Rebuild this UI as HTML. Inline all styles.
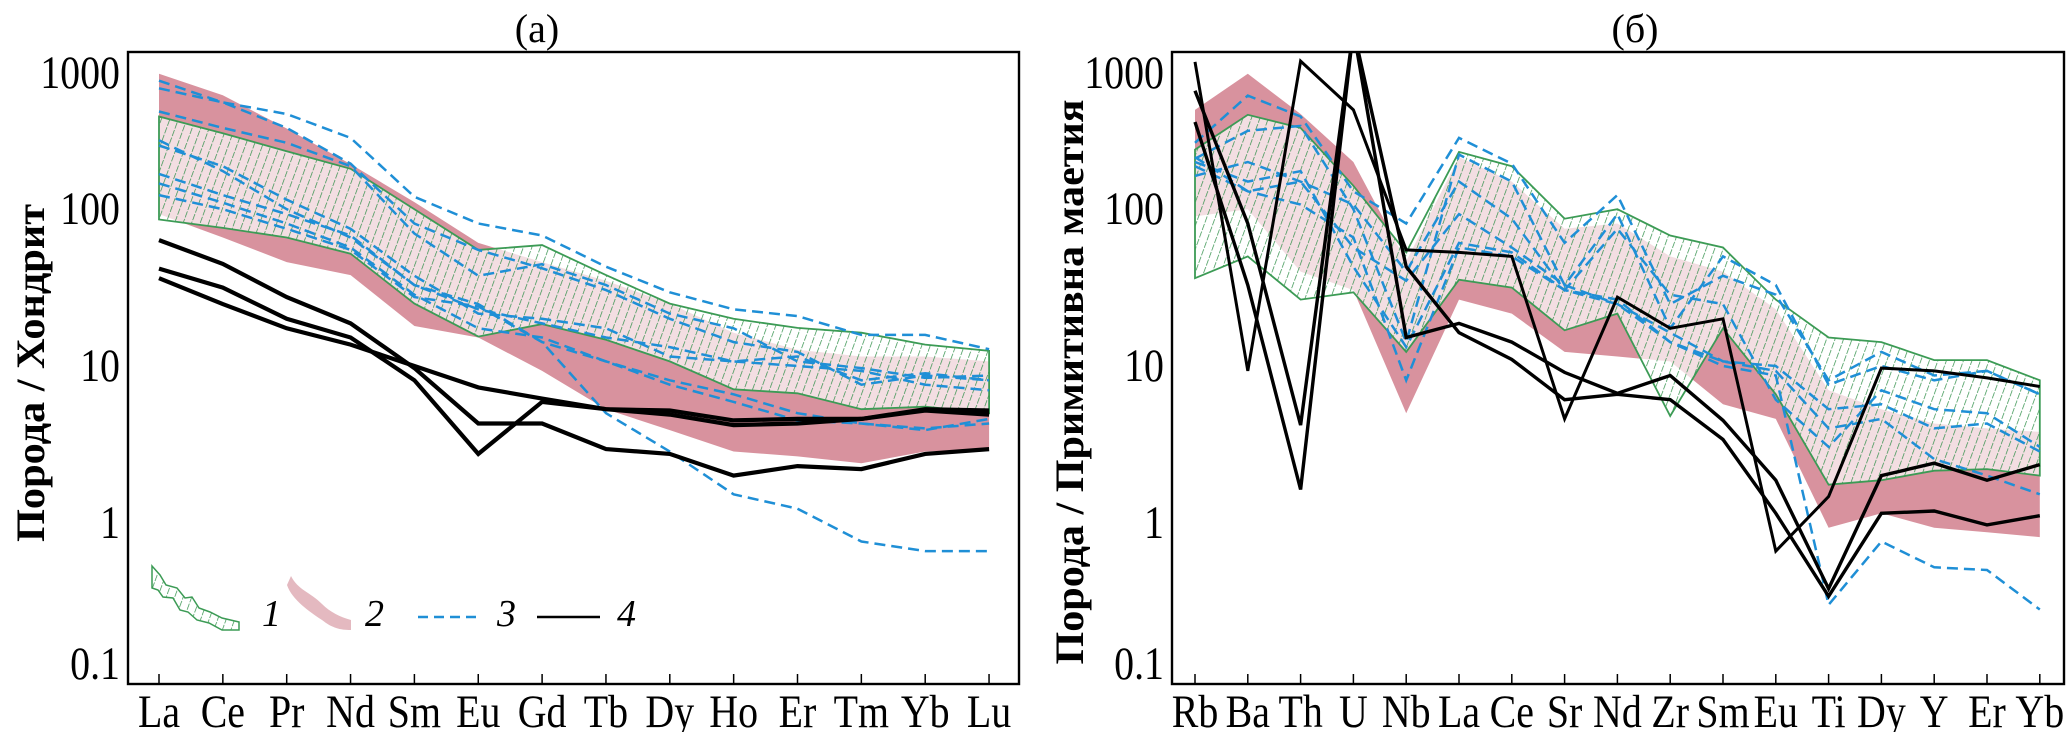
<!DOCTYPE html>
<html><head><meta charset="utf-8"><style>
html,body{margin:0;padding:0;background:#fff}
svg{display:block}
text{font-family:"Liberation Serif","DejaVu Serif",serif;fill:#000}
</style></head><body>
<svg id="chart" width="2067" height="732" viewBox="0 0 2067 732" xmlns="http://www.w3.org/2000/svg">
<defs>
<pattern id="hatch" patternUnits="userSpaceOnUse" width="8" height="8" patternTransform="rotate(20)">
<line x1="0" y1="0" x2="0" y2="8" stroke="#2f8f48" stroke-width="1.4" stroke-dasharray="5 1.5"/>
</pattern>
<clipPath id="clipA"><rect x="128" y="52" width="891" height="632"/></clipPath>
<clipPath id="clipB"><rect x="1172" y="52" width="892" height="632"/></clipPath>
</defs>
<g id="panelA"></g>
<g id="panelB"></g>
<g id="legend">
<polygon points="152,566 160,575 166,585 177,588 185,598 192,597 199,608 210,612 222,618 239,622 239,630 222,630 209,623 197,620 188,612 180,610 173,598 163,597 158,590 152,588" fill="url(#hatch)" stroke="#3c9b55" stroke-width="1.5"/>
<path d="M287,585 C292,600 310,612 322,620 C332,628 340,630 351,630 L351,620 C340,617 330,612 322,604 C310,592 298,590 291,576 Z" fill="#e4b9c0"/>
<text x="262" y="626" font-size="38" font-style="italic">1</text>
<text x="365" y="626" font-size="38" font-style="italic">2</text>
<line x1="418" y1="617" x2="481" y2="617" stroke="#1f8fd6" stroke-width="2.5" stroke-dasharray="10 6"/>
<text x="497" y="626" font-size="38" font-style="italic">3</text>
<line x1="537" y1="617" x2="600" y2="617" stroke="#000" stroke-width="2.5"/>
<text x="617" y="626" font-size="38" font-style="italic">4</text>
</g>
</svg>
<script>
// ---- Panel (a) data: chondrite-normalised REE ----
const catsA = ["La","Ce","Pr","Nd","Sm","Eu","Gd","Tb","Dy","Ho","Er","Tm","Yb","Lu"];
const greenUpA = [390,305,234,181,100,55,59,38,25,20,17.5,16.3,13.7,12.5];
const greenLoA = [86,76,66,52,25,15.4,18.5,14.7,10.7,7.1,6.7,5.3,5.5,5.0];
const pinkUpA = [730,533,327,194,111,61,46,35,25,16.3,12.7,11.5,11.5,10.7];
const pinkLoA = [93,66,46,38,18,15.2,9.3,5.3,3.9,2.85,2.65,2.4,2.85,2.95];
const blueA1 = [660,480,405,285,120,81,68,43,29.5,23,20.8,15.8,15.8,12.8];
const blueA2 = [590,480,330,195,81,55,42,30.5,20,14.2,12.3,7.6,8.7,8.1];
const blueA3 = [420,330,265,188,70,37.6,44.6,32.8,21.6,17.4,10.7,9.7,8.4,8.7];
const blueA4 = [255,188,115,75,37.6,21.6,20,17.4,11.5,10.7,11.5,8.1,9,8.1];
const blueA5 = [168,123,93,68,32.8,23,18.7,15.2,13.2,10.7,10,9.3,7.6,7];
const blueA6 = [146,110,81,57,28.5,17.4,15.2,10.7,7.6,5.9,4.5,4.3,3.9,4.6];
const blueA7 = [123,100,75,55,27.5,24,14.2,10.7,8.1,6.6,5,4.3,4.0,4.3];
const blueA8 = [275,175,100,66,32.8,24.8,14.2,5,2.85,1.52,1.23,0.76,0.66,0.66];
const blackA1 = [63.5,44.8,27.5,18.7,9.7,4.3,4.3,2.95,2.75,2.0,2.3,2.2,2.75,2.95];
const blackA2 = [41.8,31.6,20,15.2,8.1,2.75,5.9,5.3,5.2,4.5,4.6,4.6,5.3,5.2];
const blackA3 = [36.3,24.8,17.4,13.7,10,7.3,6.2,5.3,4.9,4.2,4.3,4.6,5.2,4.9];
// ---- Panel (b) data: primitive-mantle-normalised ----
const catsB = ["Rb","Ba","Th","U","Nb","La","Ce","Sr","Nd","Zr","Sm","Eu","Ti","Dy","Y","Er","Yb"];
const greenUpB = [240,400,330,141,53,232,188,87,100,68,57,26.5,15.2,14.2,10.9,10.9,8.1];
const greenLoB = [36.3,50,26.5,29.5,12.3,35.5,31.6,16.9,21.6,4.8,17.4,6.6,1.75,1.87,2.15,2.2,2.0];
const pinkUpB = [430,730,405,200,46.5,215,150,75,81,50,40,23,7,5.3,4.3,4.0,3.8];
const pinkLoB = [90,100,40,30.5,5,26.5,21.6,12.3,11.5,10.7,5.7,4.6,0.93,1.15,0.93,0.87,0.81];
const blueB1 = [265,530,390,130,81,285,195,61,123,24.8,37.6,28.5,8.1,12.3,8.7,9.3,6.6];
const blueB2 = [210,316,340,100,14.2,223,150,32.8,93,17.4,50,32.8,7.6,10,8.1,9.3,6.6];
const blueB3 = [163,200,150,107,40,150,87,30.5,75,28.5,24.8,6.1,3.05,7,5.3,5,3.05];
const blueB4 = [215,130,150,57,35,93,57,32.8,24.8,16.3,10.7,10,5.3,5.7,4.0,4.3,2.85];
const blueB5 = [200,150,175,43,13.2,61,53,30.5,26.5,14.2,10.7,9.3,4.0,4.6,2.55,2.0,1.52];
const blueB6 = [188,130,107,66,8.1,57,50,30.5,24.8,14.2,10,8.7,0.30,0.76,0.52,0.50,0.28];
const blackB1 = [870,9.3,880,430,55,53,50,4.6,27.5,17.4,20,0.66,1.47,9.7,9.3,8.4,7.4];
const blackB2 = [570,81,4.2,1400,15.2,18.7,14.2,9.1,6.7,8.7,4.5,1.87,0.38,2.0,2.4,1.87,2.35];
const blackB3 = [360,32.8,1.63,1400,43,16.3,11,6.1,6.6,6.1,3.4,1.15,0.34,1.15,1.19,0.97,1.11];
const yTickVals = [1000,100,10,1,0.1];
const yTickLabels = ["1000","100","10","1","0.1"];

const NS = "http://www.w3.org/2000/svg";
function yScale(v){ return 522.8 - 156.8*Math.log10(v); }
function mk(tag, attrs, parent){
  const e = document.createElementNS(NS, tag);
  for (const k in attrs) e.setAttribute(k, attrs[k]);
  parent.appendChild(e); return e;
}
function pts(xs, vals){ return vals.map((v,i)=>xs(i).toFixed(1)+","+yScale(v).toFixed(1)).join(" "); }
function band(g, xs, up, lo){ return pts(xs, up)+" "+pts(i=>xs(lo.length-1-i), lo.slice().reverse()); }

function panel(id, cfg){
  const g = document.getElementById(id);
  const xs = i => cfg.cx0 + i*cfg.step;
  const plot = mk("g", {"clip-path":"url(#"+cfg.clip+")"}, g);
  
  
  const pb = mk("polygon", {points: band(g, xs, cfg.pinkUp, cfg.pinkLo), fill:"#d8929e"}, plot);
  
  
  const gw = mk("polygon", {points: band(g, xs, cfg.greenUp, cfg.greenLo), fill:"#ffffff", "fill-opacity":"0.7"}, plot);
  
  
  const gb = mk("polygon", {points: band(g, xs, cfg.greenUp, cfg.greenLo), fill:"url(#hatch)", stroke:"#3c9b55", "stroke-width":"1.8"}, plot);
  
  
  cfg.blue.forEach((s,k)=>{
    const l = mk("polyline", {points: pts(xs, s), fill:"none", stroke:"#1f8fd6", "stroke-width":"2.5", "stroke-dasharray":"11 6"}, plot);
    
    
  });
  cfg.black.forEach((s,k)=>{
    const l = mk("polyline", {points: pts(xs, s), fill:"none", stroke:"#000", "stroke-width": cfg.blackW[k], "stroke-linejoin":"miter"}, plot);
    
    
  });
  const fr = mk("rect", {x:cfg.x0, y:52, width:cfg.x1-cfg.x0, height:632, fill:"none", stroke:"#000", "stroke-width":"2.4"}, g);
  
  
  cfg.cats.forEach((c,i)=>{
    const t = mk("line", {x1:xs(i), x2:xs(i), y1:684, y2:674, stroke:"#000", "stroke-width":"1.5"}, g);
    
    
    const tx = mk("text", {x:0, y:0, "font-size":"42", "text-anchor":"middle", transform:"translate("+xs(i)+",727) scale(0.95,1.12)"}, g);
    tx.textContent = c;
    
    
  });
  yTickVals.forEach((v,i)=>{
    const yy = Math.min(664, Math.max(73, yScale(v)));
    const tx = mk("text", {x:0, y:0, "font-size":"42", "text-anchor":"end", transform:"translate("+(cfg.x0-8)+","+(yy+15)+") scale(0.95,1.12)"}, g);
    tx.textContent = yTickLabels[i];
    
    
  });
  const tt = mk("text", {x:cfg.titleX, y:42, "font-size":"40", "text-anchor":"middle"}, g);
  tt.textContent = cfg.title;
  
  
  const yt = mk("text", {x:0, y:0, "font-size":"40", "font-weight":"bold", "text-anchor":"middle", textLength:cfg.yLen, lengthAdjust:"spacingAndGlyphs", transform:"translate("+cfg.yX+","+cfg.yY+") rotate(-90)"}, g);
  yt.textContent = cfg.yTitle;
  
  
}
panel("panelA", {cx0:159, step:63.85, x0:128, x1:1019, clip:"clipA", cats:catsA,
  greenUp:greenUpA, greenLo:greenLoA, pinkUp:pinkUpA, pinkLo:pinkLoA,
  blue:[blueA1,blueA2,blueA3,blueA4,blueA5,blueA6,blueA7,blueA8],
  black:[blackA1,blackA2,blackA3], blackW:["4.2","4.2","4.2"],
  title:"(a)", titleX:537, yTitle:"Порода / Хондрит", yX:44, yY:373, yLen:338});
panel("panelB", {cx0:1195, step:52.8, x0:1172, x1:2064, clip:"clipB", cats:catsB,
  greenUp:greenUpB, greenLo:greenLoB, pinkUp:pinkUpB, pinkLo:pinkLoB,
  blue:[blueB1,blueB2,blueB3,blueB4,blueB5,blueB6],
  black:[blackB1,blackB2,blackB3], blackW:["3","3.4","3.4"],
  title:"(б)", titleX:1635, yTitle:"Порода / Примитивна маетия", yX:1083, yY:382, yLen:565});
</script>
</body></html>
